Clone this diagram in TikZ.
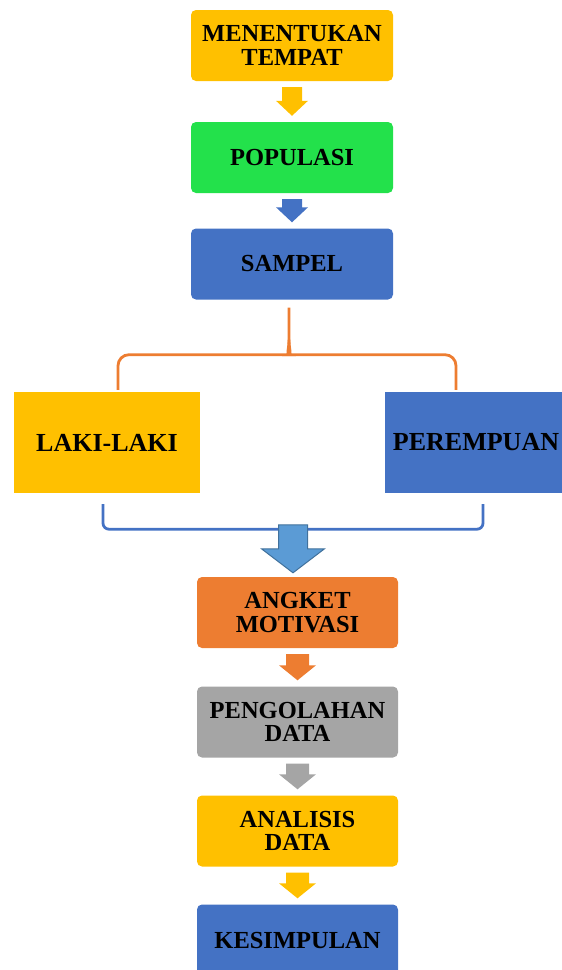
\documentclass[tikz,border=0pt]{standalone}
\usepackage{fontspec}
\setmainfont{Liberation Serif}
\usetikzlibrary{positioning,calc}

\definecolor{kuning}{HTML}{FFC000}
\definecolor{hijau}{HTML}{23E14B}
\definecolor{biru}{HTML}{4472C4}
\definecolor{oranye}{HTML}{ED7D31}
\definecolor{abu}{HTML}{A5A5A5}
\definecolor{birumuda}{HTML}{5B9BD5}
\definecolor{birutua}{HTML}{41719C}

\tikzset{
  stepbox/.style={rounded corners=5pt, minimum width=202pt, minimum height=71pt,
    inner sep=0pt, align=center, text=black,
    font=\bfseries\fontsize{24.5}{23.5}\selectfont},
  sidebox/.style={minimum width=186pt, minimum height=101pt, inner sep=0pt,
    align=center, text=black, font=\bfseries\fontsize{26}{28}\selectfont},
  bracecurve/.style={draw=oranye, line width=2.8pt},
  bracketline/.style={draw=biru, line width=2.8pt}
}

% panah blok: dari, ke, warna, setengah batang, setengah kepala
\newcommand{\blockarrow}[5]{%
  \fill[#3] ($(#1.south)+(-#4,6)$) -- ($(#1.south)+(#4,6)$)
    -- ($(#2.north)+(#4,-21)$) -- ($(#2.north)+(#5,-21)$)
    -- ($(#2.north)+(0,-6)$) -- ($(#2.north)+(-#5,-21)$)
    -- ($(#2.north)+(-#4,-21)$) -- cycle;}

\begin{document}
\begin{tikzpicture}[x=1pt, y=-1pt]
    \path[use as bounding box, clip] (0,0) rectangle (562,970);

    % kotak atas
    \node[stepbox, fill=kuning] (tempat) at (292, 45.5) {MENENTUKAN\\TEMPAT};
    \node[stepbox, fill=hijau] (populasi) at (292, 157.5) {POPULASI};
    \node[stepbox, fill=biru] (sampel) at (292, 264) {SAMPEL};

    % dua kelompok
    \node[sidebox, fill=kuning] (laki) at (107, 442.5) {LAKI-LAKI};
    \node[sidebox, fill=biru] (perempuan) at (478, 442.5) {\hspace*{-4pt}PEREMPUAN};

    % kotak bawah
    \node[stepbox, fill=oranye, minimum width=201pt] (angket) at (297.5, 612.5) {ANGKET\\MOTIVASI};
    \node[stepbox, fill=abu, minimum width=201pt] (olah) at (297.5, 722) {PENGOLAHAN\\DATA};
    \node[stepbox, fill=kuning, minimum width=201pt] (analisis) at (297.5, 831) {ANALISIS\\DATA};
    \node[stepbox, fill=biru, minimum width=201pt] (simpul) at (297.5, 940) {KESIMPULAN};

    % panah kecil
    \blockarrow{tempat}{populasi}{kuning}{10}{16}
    \blockarrow{populasi}{sampel}{biru}{10}{16}
    \blockarrow{angket}{olah}{oranye}{11.5}{18.5}
    \blockarrow{olah}{analisis}{abu}{11.5}{18.5}
    \blockarrow{analisis}{simpul}{kuning}{11.5}{18.5}

    % kurung kurawal
    \coordinate (tip) at ($(sampel.south)+(-3,8)$);
    \coordinate (mid) at ($(tip)+(0,47)$);
    \coordinate (kaki1) at ($(laki.north)+(11,-2)$);
    \coordinate (kaki2) at ($(perempuan.north)+(-22,-2)$);
    \draw[bracecurve] (kaki1) [rounded corners=11pt] |- ($(mid)+(-10,0)$)
        [sharp corners] .. controls ($(mid)+(-3,0)$) and ($(mid)+(0,-5)$) .. ($(mid)+(0,-15)$) -- (tip);
    \draw[bracecurve] (kaki2) [rounded corners=11pt] |- ($(mid)+(10,0)$)
        [sharp corners] .. controls ($(mid)+(3,0)$) and ($(mid)+(0,-5)$) .. ($(mid)+(0,-15)$);

    % kurung bawah
    \coordinate (ujung1) at ($(laki.south)+(-4,11)$);
    \coordinate (ujung2) at ($(perempuan.south)+(5,11)$);
    \draw[bracketline] (ujung1) [rounded corners=6pt] -- ++(0,25) -| (ujung2);

    % panah besar
    \coordinate (atas) at ($(angket.north)+(-4.5,-52)$);
    \filldraw[fill=birumuda, draw=birutua, line width=1pt]
        ($(atas)+(-14.5,0)$) -- ($(atas)+(14.5,0)$) -- ($(atas)+(14.5,24)$)
        -- ($(atas)+(31.5,24)$) -- ($(angket.north)+(-4.5,-4)$)
        -- ($(atas)+(-31.5,24)$) -- ($(atas)+(-14.5,24)$) -- cycle;
\end{tikzpicture}
\end{document}
